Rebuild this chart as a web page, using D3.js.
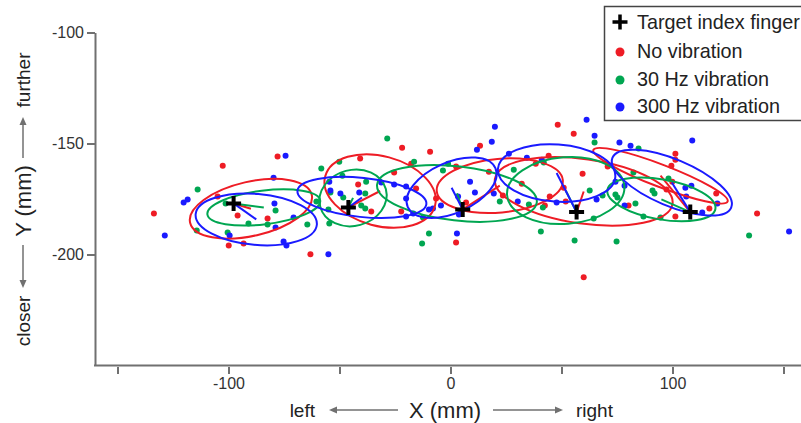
<!DOCTYPE html>
<html>
<head>
<meta charset="utf-8">
<script src="https://d3js.org/d3.v7.min.js"></script>
<style>
  body { margin: 0; background: #fff; }
  svg text { font-family: "Liberation Sans", Arial, sans-serif; }
  .axis .domain, .axis line { stroke: #707070; stroke-width: 2; }
  .axis text { font-size: 16px; fill: #333; }
</style>
</head>
<body>
<svg id="chart" width="801" height="423"></svg>
<script>
// target finger positions (mm)
const targetX = [-97.7, -46.0, 5.5, 56.8, 108.0];
const targetY = [-177.0, -178.8, -179.7, -180.9, -180.9];

// per-target mean + covariance ellipse, one set per condition
const noVibMeanX = [-89.9, -31.7, 22.2, 60.0, 94.6];
const noVibMeanY = [-179.4, -171.4, -169.0, -171.6, -164.5];
const noVibA = [28.1, 25.6, 28.5, 40.4, 32.4];
const noVibB = [12.2, 15.7, 12.1, 14.5, 5.0];
const noVibTilt = [12.9, -15, 5, -8, -21];

const hz30MeanX = [-84.1, -43.9, 2.9, 51.9, 95.0];
const hz30MeanY = [-178.8, -174.5, -172.5, -171.2, -175.2];
const hz30A = [25.6, 15.3, 36.2, 26.5, 24.7];
const hz30B = [7.6, 12.6, 12.2, 15.0, 9.0];
const hz30Tilt = [7, 15, -6.4, 4.5, -10];

const hz300MeanX = [-87.5, -39.9, 0.5, 47.8, 99.7];
const hz300MeanY = [-184.2, -174.3, -169.9, -163.3, -167.6];
const hz300A = [27.4, 29.2, 21.6, 26.5, 29.0];
const hz300B = [11.5, 8.8, 11.4, 12.9, 10.5];
const hz300Tilt = [-5, -6, 24, -4, -22.8];

// individual pointing trials (mm)
const noVibPts = [
  [-133.6, -181.5], [-102.6, -160.0], [-77.9, -155.9], [-104.9, -173.9], [-95.9, -182.4],
  [-82.4, -183.8], [-99.9, -195.9], [-93.2, -195.0], [-63.1, -199.9], [-40.7, -156.8],
  [-21.8, -151.9], [-9.2, -153.7], [-17.7, -159.1], [-41.6, -168.5], [-35.7, -180.6],
  [-25.4, -163.1], [-15.5, -170.3], [-22.2, -180.6], [-6.5, -174.8], [2.5, -194.6],
  [2.5, -160.4], [13.3, -151.0], [17.3, -162.7], [7.0, -176.6], [23.6, -173.4],
  [32.1, -168.1], [48.3, -141.6], [55.5, -145.6], [44.2, -155.5], [38.4, -159.1],
  [59.5, -163.6], [44.7, -173.9], [42.5, -177.9], [51.9, -176.1], [51.0, -169.9],
  [70.8, -160.4], [80.2, -177.9], [60.0, -210.3], [101.3, -154.6], [101.3, -157.3],
  [99.5, -160.0], [99.9, -167.2], [97.3, -170.7], [119.7, -172.5], [116.6, -179.3],
  [101.3, -182.9], [138.1, -181.5]
];
const hz30Pts = [
  [-113.9, -170.7], [-101.3, -177.0], [-78.8, -180.2], [-91.0, -186.0], [-82.4, -186.5],
  [-64.5, -186.5], [-114.3, -189.2], [-100.4, -190.1], [-58.2, -161.3], [-50.1, -158.2],
  [-28.5, -147.8], [-16.4, -158.2], [-48.7, -164.5], [-38.0, -167.2], [-54.1, -172.1],
  [-48.3, -174.3], [-38.4, -172.5], [-40.2, -177.9], [-38.4, -179.3], [-60.4, -176.1],
  [-54.6, -186.0], [-55.0, -179.7], [-12.4, -183.3], [-9.7, -190.5], [-12.8, -195.0],
  [-3.4, -162.2], [-1.1, -159.1], [28.5, -161.8], [22.2, -176.1], [64.9, -149.6],
  [42.0, -158.6], [35.3, -177.5], [41.6, -178.8], [62.7, -171.2], [68.5, -173.4],
  [74.3, -173.0], [75.2, -174.3], [64.5, -183.8], [40.7, -189.6], [55.9, -193.7],
  [74.8, -194.1], [84.7, -152.3], [82.4, -163.1], [98.2, -165.8], [91.0, -171.2],
  [91.9, -172.5], [83.3, -177.0], [86.9, -182.9], [94.6, -183.3], [134.5, -191.4]
];
const hz300Pts = [
  [-128.7, -191.4], [-74.3, -155.5], [-118.4, -175.2], [-120.2, -176.6], [-79.7, -165.4],
  [-79.3, -177.0], [-70.7, -183.3], [-78.8, -187.8], [-99.5, -191.4], [-75.2, -194.1],
  [-73.9, -195.9], [-55.0, -199.9], [-54.6, -167.2], [-54.1, -171.2], [-49.6, -172.5],
  [-41.1, -172.1], [-31.2, -167.6], [-25.4, -168.5], [-20.0, -169.4], [-20.0, -174.8],
  [-20.0, -182.9], [-16.8, -181.5], [-9.7, -179.7], [-7.9, -179.3], [-4.3, -177.9],
  [3.4, -173.9], [3.8, -182.0], [2.9, -190.5], [8.8, -167.2], [11.0, -172.1],
  [20.0, -142.4], [18.6, -149.2], [11.9, -152.8], [26.3, -154.6], [19.5, -172.5],
  [30.3, -176.1], [61.3, -139.3], [64.9, -146.5], [76.1, -149.6], [81.1, -151.0],
  [34.4, -156.4], [41.1, -157.3], [47.8, -176.6], [65.8, -175.2], [74.3, -167.2],
  [78.4, -169.0], [78.4, -177.9], [108.9, -148.7], [105.8, -169.9], [108.5, -169.0],
  [106.2, -173.9], [120.2, -177.0], [113.4, -181.1], [152.5, -189.6]
];

const xTicks = [-150, -100, -50, 0, 50, 100, 150];
const xLabels = [-100, 0, 100];
const yTicks = [-100, -150, -200];
const legendLabels = ["Target index finger", "No vibration", "30 Hz vibration", "300 Hz vibration"];

const conditions = [
  { color: "#ee1c25", pts: noVibPts, mx: noVibMeanX, my: noVibMeanY, a: noVibA, b: noVibB, tilt: noVibTilt },
  { color: "#00a651", pts: hz30Pts, mx: hz30MeanX, my: hz30MeanY, a: hz30A, b: hz30B, tilt: hz30Tilt },
  { color: "#1a1aff", pts: hz300Pts, mx: hz300MeanX, my: hz300MeanY, a: hz300A, b: hz300B, tilt: hz300Tilt }
];

const svg = d3.select("#chart");
const x = d3.scaleLinear().domain([-150, 150]).range([117.5, 783.5]);
const y = d3.scaleLinear().domain([-100, -250]).range([32.5, 365.5]);
const k = x(1) - x(0);
const gray = "#707070";

// axes
svg.append("g").attr("class", "axis")
  .attr("transform", "translate(95,0)")
  .call(d3.axisLeft(y).tickValues(yTicks).tickSize(8).tickSizeOuter(0).tickPadding(3).tickFormat(d => String(d)));

svg.append("line")
  .attr("x1", 94).attr("x2", 801).attr("y1", 365.5).attr("y2", 365.5)
  .attr("stroke", gray).attr("stroke-width", 2);

const xAxis = svg.append("g").attr("class", "axis")
  .attr("transform", "translate(0,367)")
  .call(d3.axisBottom(x).tickValues(xTicks).tickSize(7).tickSizeOuter(0).tickPadding(4)
    .tickFormat(d => xLabels.includes(d) ? String(d) : ""));
xAxis.select(".domain").remove();

// axis titles with arrows
function arrow(x1, y1, x2, y2) {
  const ang = Math.atan2(y2 - y1, x2 - x1);
  const hl = 8, hw = 3.5;
  const bx = x2 - hl * Math.cos(ang), by = y2 - hl * Math.sin(ang);
  svg.append("line").attr("x1", x1).attr("y1", y1).attr("x2", bx).attr("y2", by)
    .attr("stroke", gray).attr("stroke-width", 1.5);
  svg.append("path")
    .attr("d", `M${x2},${y2}L${bx - hw * Math.sin(ang)},${by + hw * Math.cos(ang)}L${bx + hw * Math.sin(ang)},${by - hw * Math.cos(ang)}Z`)
    .attr("fill", gray);
}

svg.append("text").attr("x", 445).attr("y", 418).attr("text-anchor", "middle")
  .style("font-size", "22px").attr("fill", "#222").text("X (mm)");
svg.append("text").attr("x", 315).attr("y", 417).attr("text-anchor", "end")
  .style("font-size", "19px").attr("fill", "#222").text("left");
svg.append("text").attr("x", 576).attr("y", 417)
  .style("font-size", "19px").attr("fill", "#222").text("right");
arrow(398, 410, 329, 410);
arrow(493, 410, 563, 410);

const yTitle = (txt, cy, size) => svg.append("text")
  .attr("transform", `translate(${23 + size * 0.36},${cy}) rotate(-90)`)
  .attr("text-anchor", "middle").style("font-size", size + "px").attr("fill", "#222").text(txt);
yTitle("Y (mm)", 201, 22);
yTitle("further", 80, 19);
yTitle("closer", 321, 19);
arrow(23, 158, 23, 117);
arrow(23, 245, 23, 288);

// trial points
const plot = svg.append("g");
conditions.forEach(c => {
  plot.append("g").selectAll("circle").data(c.pts).join("circle")
    .attr("cx", d => x(d[0])).attr("cy", d => y(d[1])).attr("r", 3)
    .attr("fill", c.color);
});

// ellipses and mean lines
conditions.forEach(c => {
  const g = plot.append("g");
  g.selectAll("ellipse").data(targetX).join("ellipse")
    .attr("cx", (d, i) => x(c.mx[i])).attr("cy", (d, i) => y(c.my[i]))
    .attr("rx", (d, i) => c.a[i] * k).attr("ry", (d, i) => c.b[i] * k)
    .attr("transform", (d, i) => `rotate(${-c.tilt[i]},${x(c.mx[i])},${y(c.my[i])})`)
    .attr("fill", "none").attr("stroke", c.color).attr("stroke-width", 2);
  g.selectAll("line").data(targetX).join("line")
    .attr("x1", (d, i) => x(targetX[i])).attr("y1", (d, i) => y(targetY[i]))
    .attr("x2", (d, i) => x(c.mx[i])).attr("y2", (d, i) => y(c.my[i]))
    .attr("stroke", c.color).attr("stroke-width", 2);
});

// target crosses
function cross(g, cx, cy, s, w) {
  g.append("path").attr("d", `M${cx - s},${cy}H${cx + s}M${cx},${cy - s}V${cy + s}`)
    .attr("stroke", "#000").attr("stroke-width", w);
}
targetX.forEach((tx, i) => cross(plot, x(tx), y(targetY[i]), 7.5, 4));

// legend
const leg = svg.append("g");
leg.append("rect").attr("x", 604.5).attr("y", 6.5).attr("width", 210).attr("height", 114)
  .attr("fill", "#fff").attr("stroke", "#444").attr("stroke-width", 1.5);
legendLabels.forEach((lab, i) => {
  const cy = [22, 51, 79, 106][i];
  if (i === 0) cross(leg, 620, cy, 7.5, 3.5);
  else leg.append("circle").attr("cx", 620).attr("cy", cy + 1).attr("r", 4.5).attr("fill", conditions[i - 1].color);
  leg.append("text").attr("x", 637).attr("y", cy + 7).style("font-size", "19.8px").attr("fill", "#222").text(lab);
});
</script>
</body>
</html>
